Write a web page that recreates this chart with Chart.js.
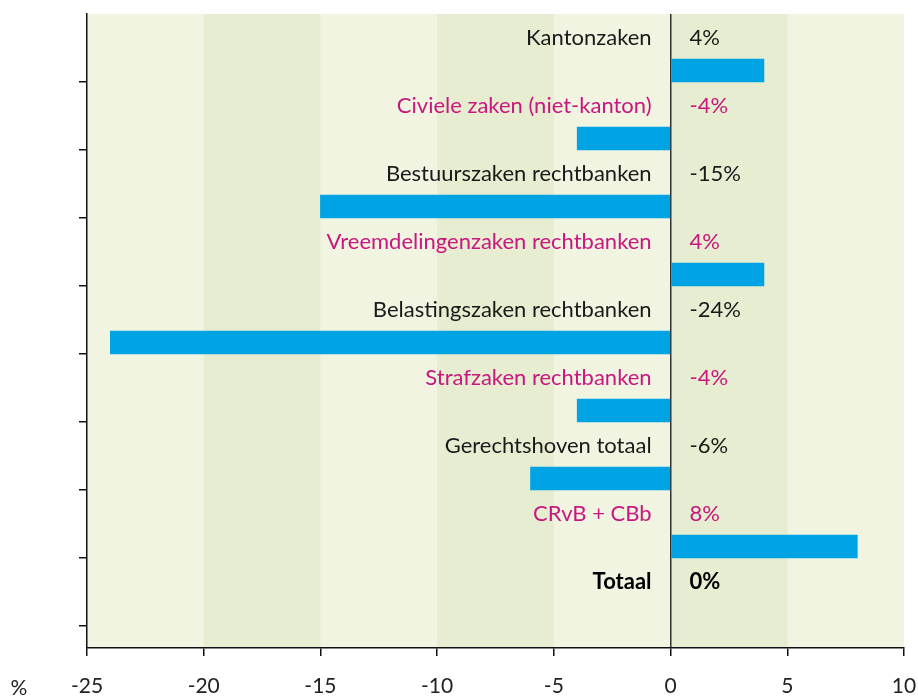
<!DOCTYPE html>
<html><head><meta charset="utf-8">
<script src="https://cdn.jsdelivr.net/npm/chart.js@4.4.0/dist/chart.umd.min.js"></script>
<style>html,body{margin:0;padding:0;background:#fff;}</style>
</head><body>
<canvas id="c" width="918" height="697" style="width:918px;height:697px;display:block"></canvas>
<script>
const categories = ['Kantonzaken','Civiele zaken (niet-kanton)','Bestuurszaken rechtbanken','Vreemdelingenzaken rechtbanken','Belastingszaken rechtbanken','Strafzaken rechtbanken','Gerechtshoven totaal','CRvB + CBb','Totaal'];
const values = [4, -4, -15, 4, -24, -4, -6, 8, 0];
const valueLabels = ['4%', '-4%', '-15%', '4%', '-24%', '-4%', '-6%', '8%', '0%'];
const labelColors = ['#1a1a1a','#c8177e','#1a1a1a','#c8177e','#1a1a1a','#c8177e','#1a1a1a','#c8177e','#000000'];
const boldRows = [false,false,false,false,false,false,false,false,true];
const xMin = -25, xMax = 10, xStep = 5;
const bands = [[-20,-15],[-10,-5],[0,5]];
const axisUnit = '%';

const FONT = 'Lato, "Noto Sans", sans-serif';
const FS = 22;
const TICK_FS = 21;
const ROW_SPAN = 9.324;     // visible rows incl. bottom gap
const LABEL_POS = 0.345;    // label position within a row
const BAR_POS = 0.831;      // bar centre within a row

const barData = values.map((v, i) => ({x: v, y: i + BAR_POS}));

const bgPlugin = {
  id: 'bg',
  beforeDraw(chart) {
    const {ctx, chartArea: a, scales: {x}} = chart;
    ctx.save();
    ctx.fillStyle = '#f0f4e1';
    ctx.fillRect(a.left, a.top, a.right - a.left, a.bottom - a.top);
    ctx.fillStyle = '#e6edd1';
    bands.forEach(([s, e]) => {
      const x1 = x.getPixelForValue(s), x2 = x.getPixelForValue(e);
      ctx.fillRect(x1, a.top, x2 - x1, a.bottom - a.top);
    });
    ctx.restore();
  }
};

const labelPlugin = {
  id: 'labels',
  afterDatasetsDraw(chart) {
    const {ctx, scales: {x, y}} = chart;
    const x0 = x.getPixelForValue(0);
    ctx.save();
    ctx.textBaseline = 'middle';
    categories.forEach((c, i) => {
      const py = y.getPixelForValue(i + LABEL_POS);
      ctx.font = (boldRows[i] ? 'bold ' : '') + FS + 'px ' + FONT;
      ctx.fillStyle = labelColors[i];
      ctx.textAlign = 'right';
      ctx.fillText(c, x0 - 19, py);
      ctx.textAlign = 'left';
      ctx.fillText(valueLabels[i], x0 + 19, py);
    });
    ctx.font = TICK_FS + 'px ' + FONT;
    ctx.fillStyle = '#222';
    ctx.textAlign = 'center';
    ctx.fillText(axisUnit, 19, x.bottom - 9);
    ctx.restore();
  }
};

new Chart(document.getElementById('c'), {
  type: 'bar',
  data: {
    datasets: [{
      data: barData,
      backgroundColor: c => (c.raw && c.raw.x === 0) ? 'rgba(0,0,0,0)' : '#00a3e4',
      borderWidth: 0,
      barThickness: 23
    }]
  },
  options: {
    indexAxis: 'y',
    responsive: false,
    animation: false,
    devicePixelRatio: 1,
    layout: {padding: {top: 14, right: 14, left: 0, bottom: 0}},
    plugins: {legend: {display: false}, tooltip: {enabled: false}},
    scales: {
      x: {
        type: 'linear',
        min: xMin, max: xMax,
        afterFit(s) { s.height = 49; s.paddingRight = 0; s.paddingLeft = 0; },
        ticks: {stepSize: xStep, color: '#222', font: {family: FONT, size: TICK_FS}, padding: 18, maxRotation: 0},
        grid: {
          drawOnChartArea: true,
          color: c => (c.tick && c.tick.value === 0) ? '#333' : 'rgba(0,0,0,0)',
          lineWidth: 1.5,
          tickColor: '#111',
          tickLength: 8
        },
        border: {display: true, color: '#111', width: 1.5}
      },
      y: {
        type: 'linear',
        reverse: true,
        min: 0, max: ROW_SPAN,
        offset: false,
        afterFit(s) { s.width = 87; s.paddingTop = 0; s.paddingBottom = 0; },
        ticks: {display: false, stepSize: 1},
        grid: {
          offset: false,
          drawOnChartArea: false,
          tickLength: 8,
          color: c => (c.tick && Number.isInteger(c.tick.value) && c.tick.value > 0) ? '#111' : 'rgba(0,0,0,0)',
          lineWidth: 1.5
        },
        border: {display: true, color: '#111', width: 1.5}
      }
    }
  },
  plugins: [bgPlugin, labelPlugin]
});
</script>
</body></html>
